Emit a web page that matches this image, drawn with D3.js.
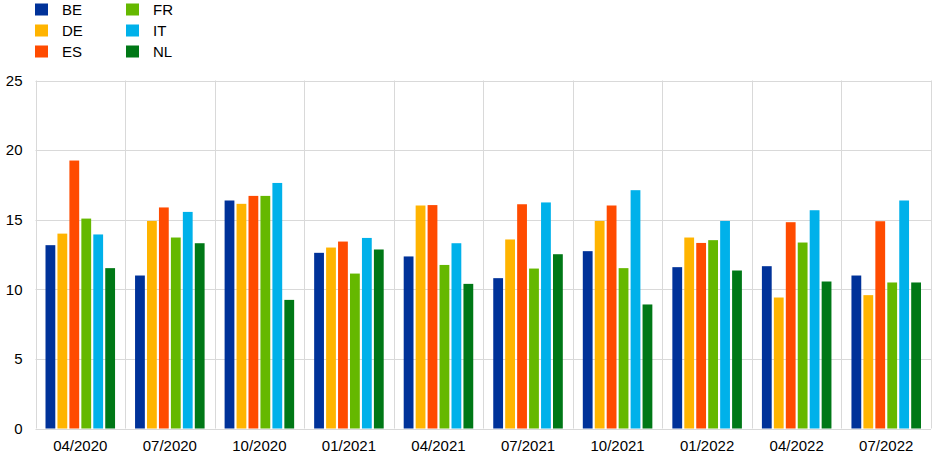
<!DOCTYPE html>
<html>
<head>
<meta charset="utf-8">
<script src="https://cdn.jsdelivr.net/npm/d3@7"></script>
<style>
  html, body { margin: 0; padding: 0; background: #fff; }
  svg { display: block; font-family: "Liberation Sans", Arial, sans-serif; }
</style>
</head>
<body>
<svg id="chart" width="948" height="466"></svg>
<script>
const categories = ["04/2020", "07/2020", "10/2020", "01/2021", "04/2021", "07/2021", "10/2021", "01/2022", "04/2022", "07/2022"];
const seriesNames = ["BE", "DE", "ES", "FR", "IT", "NL"];
const seriesColors = ["#003299", "#FFB400", "#FF4B00", "#65B800", "#00B1EA", "#007816"];
const BE = [13.17, 10.99, 16.38, 12.62, 12.36, 10.80, 12.74, 11.59, 11.66, 10.99];
const DE = [14.00, 14.91, 16.14, 13.00, 16.02, 13.58, 14.91, 13.72, 9.41, 9.58];
const ES = [19.25, 15.88, 16.71, 13.43, 16.05, 16.11, 16.02, 13.33, 14.82, 14.89];
const FR = [15.08, 13.72, 16.71, 11.13, 11.75, 11.49, 11.52, 13.53, 13.36, 10.49];
const IT = [13.94, 15.56, 17.64, 13.69, 13.31, 16.24, 17.12, 14.91, 15.68, 16.38];
const NL = [11.52, 13.31, 9.24, 12.86, 10.39, 12.52, 8.91, 11.35, 10.56, 10.49];
const yTicks = [0, 5, 10, 15, 20, 25];

const seriesValues = [BE, DE, ES, FR, IT, NL];
const data = categories.map((c, i) => ({
  cat: c,
  vals: seriesNames.map((s, j) => ({ key: s, value: seriesValues[j][i], color: seriesColors[j] }))
}));

const svg = d3.select("#chart");
const margin = { left: 35.5, right: 17, top: 80.5, bottom: 37.5 };
const W = 948, H = 466;
const x0 = d3.scaleBand().domain(categories).range([margin.left, W - margin.right]).padding(0);
const pad = 10;
const x1 = d3.scaleBand().domain(seriesNames).range([pad, x0.bandwidth() - pad]).paddingInner(0.18).paddingOuter(0);
const y = d3.scaleLinear().domain([0, 25]).range([H - margin.bottom, margin.top]);

const gridColor = "#d9d9d9";

// horizontal gridlines
svg.append("g").selectAll("line").data(yTicks).join("line")
  .attr("x1", margin.left).attr("x2", W - margin.right)
  .attr("y1", d => Math.round(y(d)) + 0.5).attr("y2", d => Math.round(y(d)) + 0.5)
  .attr("stroke", gridColor).attr("stroke-width", 1);

// vertical gridlines at band edges
const edges = categories.map(c => x0(c)).concat([x0(categories[categories.length - 1]) + x0.bandwidth()]);
svg.append("g").selectAll("line").data(edges).join("line")
  .attr("x1", d => Math.round(d) + 0.5).attr("x2", d => Math.round(d) + 0.5)
  .attr("y1", y(25)).attr("y2", y(0))
  .attr("stroke", gridColor).attr("stroke-width", 1);

// y axis labels
const yAxis = d3.axisLeft(y).tickValues(yTicks).tickSize(0).tickPadding(13).tickFormat(d3.format("d"));
const gy = svg.append("g").attr("transform", `translate(${margin.left},0)`).call(yAxis);
gy.select(".domain").remove();
gy.selectAll("text").attr("font-size", 15).attr("fill", "#000").attr("font-family", "Liberation Sans, Arial, sans-serif");

// x axis labels
const xAxis = d3.axisBottom(x0).tickSize(0).tickPadding(12);
const gx = svg.append("g").attr("transform", `translate(0,${y(0)})`).call(xAxis);
gx.select(".domain").remove();
gx.selectAll("text").attr("font-size", 15).attr("fill", "#000").attr("font-family", "Liberation Sans, Arial, sans-serif");

// bars
const groups = svg.append("g").selectAll("g").data(data).join("g")
  .attr("transform", d => `translate(${x0(d.cat)},0)`);
groups.selectAll("rect").data(d => d.vals).join("rect")
  .attr("x", d => x1(d.key))
  .attr("width", x1.bandwidth())
  .attr("y", d => y(d.value))
  .attr("height", d => y(0) - y(d.value))
  .attr("fill", d => d.color);

// legend
const legend = svg.append("g");
const legendItems = seriesNames.map((s, i) => ({ name: s, color: seriesColors[i], col: Math.floor(i / 3), row: i % 3 }));
const lg = legend.selectAll("g").data(legendItems).join("g")
  .attr("transform", d => `translate(${35 + d.col * 91},${3.5 + d.row * 21})`);
lg.append("rect").attr("width", 13).attr("height", 12).attr("fill", d => d.color);
lg.append("text").attr("x", 27).attr("y", 11).attr("font-size", 15).attr("fill", "#000")
  .text(d => d.name);
</script>
</body>
</html>
